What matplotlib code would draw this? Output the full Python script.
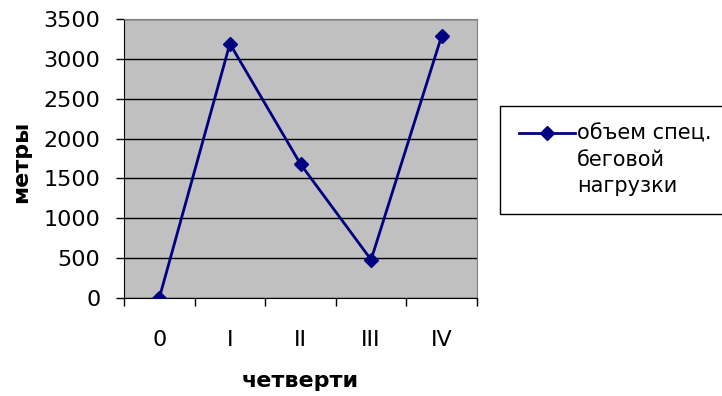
import matplotlib.pyplot as plt
from matplotlib.lines import Line2D
from matplotlib.patches import Rectangle
from matplotlib.ticker import FixedLocator, NullFormatter

plt.rcParams['font.family'] = ['DejaVu Sans']

quarters = ['0', 'I', 'II', 'III', 'IV']
load_m = [0, 3190, 1680, 480, 3290]
y_ticks = [0, 500, 1000, 1500, 2000, 2500, 3000, 3500]
series_name = 'объем спец.\nбеговой\nнагрузки'

W, H = 722, 396
fig = plt.figure(figsize=(W / 100, H / 100), dpi=100)
ax = fig.add_axes([124 / W, 1 - 298 / H, (477 - 124) / W, (298 - 19) / H])
ax.set_facecolor('#c0c0c0')

line_color = '#000080'
x = list(range(len(quarters)))
ax.plot(x, load_m, color=line_color, lw=2, marker='D', markersize=7.5, zorder=3)

ax.set_xlim(-0.5, len(quarters) - 0.5)
ax.set_ylim(0, 3500)
ax.set_yticks(y_ticks)
ax.set_yticklabels([str(v) for v in y_ticks], fontsize=16)
ax.yaxis.grid(True, color='black', lw=1)
ax.set_axisbelow(True)

# category labels centred, tick marks between categories
ax.xaxis.set_major_locator(FixedLocator(x))
ax.set_xticklabels(quarters, fontsize=16)
ax.tick_params(axis='x', which='major', length=0, pad=23)
ax.xaxis.set_minor_locator(FixedLocator([i - 0.5 for i in range(len(quarters) + 1)]))
ax.xaxis.set_minor_formatter(NullFormatter())
ax.tick_params(axis='x', which='minor', length=6, width=1, color='black')
ax.tick_params(axis='y', length=6, width=1, color='black', pad=11)

for s in ['top', 'right']:
    ax.spines[s].set_color('#808080')
for s in ['left', 'bottom']:
    ax.spines[s].set_color('black')

fig.text(21 / W, 1 - 162 / H, 'метры', rotation=90, fontsize=16,
         fontweight='bold', ha='center', va='center')
fig.text(300 / W, 1 - 381 / H, 'четверти', fontsize=16,
         fontweight='bold', ha='center', va='center')

# legend box, drawn by hand so the marker sits on the first text line
fig.patches.append(Rectangle((500 / W, 1 - 214 / H), (740 - 500) / W, (214 - 106) / H,
                             transform=fig.transFigure, facecolor='white',
                             edgecolor='black', lw=1))
fig.lines.append(Line2D([519 / W, 575 / W], [1 - 133 / H, 1 - 133 / H],
                        transform=fig.transFigure, color=line_color, lw=2))
fig.lines.append(Line2D([547 / W], [1 - 133 / H], transform=fig.transFigure,
                        color=line_color, marker='D', markersize=7.5))
fig.text(577 / W, 1 - 124 / H, series_name, fontsize=15, ha='left', va='top',
         linespacing=1.38)

fig.savefig('out.png', dpi=100)
